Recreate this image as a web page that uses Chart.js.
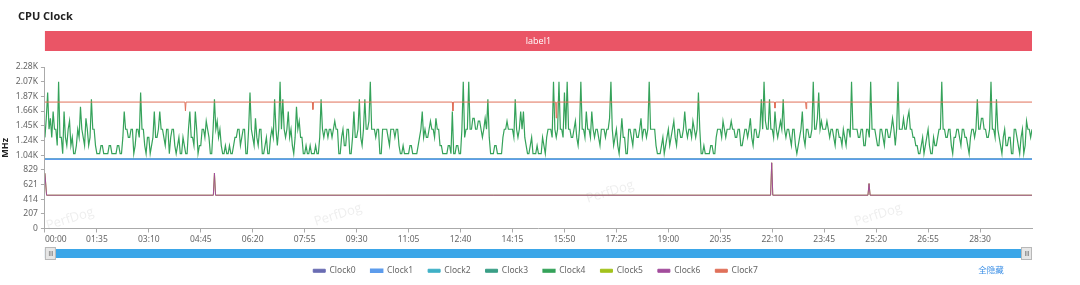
<!DOCTYPE html>
<html>
<head>
<meta charset="utf-8">
<script src="https://cdn.jsdelivr.net/npm/chart.js@4.4.1/dist/chart.umd.min.js"></script>
<style>
  html, body { margin: 0; padding: 0; background: #fff; }
  #wrap { position: relative; width: 1080px; height: 285px; }
</style>
</head>
<body>
<div id="wrap"><canvas id="cpuChart" width="1080" height="285"></canvas></div>
<script>
// big core sampled every 2.5 seconds
const sampleStep = 2.5;
const endTime = 1805;

const xTickLabels = ['00:00', '01:35', '03:10', '04:45', '06:20', '07:55', '09:30', '11:05', '12:40', '14:15',
    '15:50', '17:25', '19:00', '20:35', '22:10', '23:45', '25:20', '26:55', '28:30'];
const xTickStep = 95;
const yTickLabels = ['0', '207', '414', '621', '829', '1.04K', '1.24K', '1.45K', '1.66K', '1.87K', '2.07K', '2.28K'];
const yMax = 2280;

const seriesNames = ['Clock0', 'Clock1', 'Clock2', 'Clock3', 'Clock4', 'Clock5', 'Clock6', 'Clock7'];
const seriesColors = ['#6a6cb3', '#5d9cec', '#3fb0c6', '#3a9f86', '#35a25a', '#a3c21c', '#a24c9c', '#e0705a'];

// little cores (Clock0-3), flat
const littleTimes = [0, 1805];
const littleClock = [979, 979];

// big core (Clock4)
const clock4 = [
    1286, 1555, 1920, 1401, 1555, 1286, 1651, 1401, 1401, 1171, 2073, 1286, 1286, 1056, 1651, 1286, 1171, 1401, 1517, 1171,
    1286, 1056, 1056, 1171, 1401, 1286, 1720, 1401, 1286, 1171, 1555, 1401, 1171, 1286, 1824, 1401, 1401, 1171, 1056, 1056,
    1056, 1171, 1171, 1056, 1056, 1056, 1056, 1171, 1171, 1056, 1056, 1056, 1056, 1171, 1171, 1056, 1056, 1286, 1651, 1401,
    1401, 1286, 1286, 1401, 1401, 1056, 1171, 1401, 1401, 1286, 1920, 1401, 1401, 1171, 1056, 1286, 1286, 1056, 1171, 1286,
    1651, 1286, 1286, 1401, 1651, 1401, 1401, 1286, 1171, 1401, 1401, 1056, 1286, 1401, 1401, 1171, 1056, 1171, 1286, 1056,
    1056, 1286, 1171, 1056, 1056, 1401, 1651, 1286, 1286, 1171, 1651, 1401, 1056, 1171, 1171, 1401, 1401, 1286, 1517, 1401,
    1286, 1056, 1056, 1401, 1824, 1401, 1517, 1286, 1401, 1171, 1056, 1056, 1171, 1056, 1056, 1171, 1056, 1056, 1171, 1286,
    1286, 1401, 1401, 1171, 1286, 1401, 1401, 1056, 1056, 1401, 1920, 1401, 1286, 1171, 1555, 1286, 1171, 1401, 1401, 1056,
    1056, 1171, 1286, 1056, 1056, 1286, 1401, 1286, 1824, 1401, 1171, 1401, 2073, 1401, 1824, 1401, 1286, 1401, 1651, 1286,
    1401, 1171, 1056, 1286, 1720, 1401, 1517, 1286, 1286, 1056, 1056, 1171, 1056, 1056, 1171, 1056, 1056, 1056, 1171, 1056,
    1056, 1286, 1824, 1401, 1286, 1401, 1401, 1286, 1401, 1401, 1286, 1401, 1517, 1401, 1401, 1056, 1056, 1286, 1401, 1171,
    1171, 1401, 1401, 1056, 1056, 1286, 1651, 1286, 1286, 1401, 1824, 1286, 1171, 1401, 1824, 1401, 1401, 1517, 2073, 1401,
    1401, 1401, 1286, 1401, 1401, 1056, 1056, 1401, 1401, 1401, 1401, 1286, 1171, 1401, 1401, 1401, 1286, 1401, 1401, 1171,
    1056, 1056, 1171, 1056, 1056, 1056, 1056, 1171, 1171, 1056, 1056, 1056, 1056, 1171, 1286, 1401, 1651, 1286, 1401, 1286,
    1286, 1401, 1517, 1401, 1401, 1286, 1555, 1401, 1401, 1171, 1171, 1056, 1056, 1056, 1056, 1171, 1171, 1056, 1651, 1056,
    1056, 1171, 1171, 1056, 1056, 1401, 2073, 1286, 1401, 1401, 2073, 1401, 1401, 1555, 1555, 1401, 1401, 1517, 1517, 1401,
    1286, 1401, 1555, 1401, 1824, 1286, 1056, 1056, 1056, 1171, 1171, 1056, 1056, 1056, 1056, 1286, 1401, 1401, 1517, 1401,
    1401, 1401, 1401, 1286, 1824, 1401, 1286, 1401, 1651, 1401, 1651, 1286, 1171, 1056, 1056, 1171, 1286, 1056, 1056, 1056,
    1171, 1056, 1056, 1056, 1286, 1171, 1056, 1286, 1401, 1401, 1401, 1286, 2073, 1401, 1286, 1401, 2073, 1401, 1401, 1286,
    1920, 1401, 2073, 1401, 1401, 1286, 1286, 1401, 1517, 1286, 1171, 1401, 2073, 1401, 1401, 1286, 1651, 1401, 1401, 1286,
    1651, 1401, 1286, 1401, 1401, 1286, 1171, 1401, 1401, 1401, 1286, 1401, 1401, 1555, 2073, 1401, 1171, 1286, 1401, 1171,
    1056, 1286, 1555, 1286, 1286, 1056, 1056, 1401, 1401, 1286, 1171, 1401, 1401, 1286, 1286, 1401, 1555, 1286, 1401, 1401,
    1286, 1401, 2073, 1401, 1401, 1401, 1401, 1171, 1056, 1056, 1056, 1171, 1286, 1056, 1171, 1286, 1401, 1171, 1286, 1401,
    1517, 1286, 1171, 1401, 1401, 1286, 1286, 1401, 1651, 1401, 1286, 1401, 1401, 1286, 1517, 1401, 1286, 1401, 1920, 1401,
    1056, 1056, 1171, 1056, 1056, 1056, 1056, 1171, 1171, 1056, 1056, 1286, 1401, 1401, 1401, 1286, 1517, 1401, 1286, 1401,
    1401, 1401, 1517, 1401, 1401, 1286, 1286, 1401, 1401, 1171, 1171, 1286, 1401, 1401, 1286, 1401, 1555, 1286, 1171, 1401,
    1401, 1286, 1286, 1401, 1824, 1401, 2073, 1517, 1401, 1401, 1824, 1401, 1401, 1286, 1651, 1401, 1286, 1401, 1517, 1401,
    1824, 1401, 1286, 1401, 1401, 1286, 1171, 1401, 1401, 1171, 1056, 1171, 1286, 1401, 1651, 1286, 1171, 1401, 1401, 1286,
    1286, 1401, 2073, 1401, 1401, 1555, 1920, 1401, 1517, 1401, 1401, 1401, 1517, 1401, 1286, 1401, 1401, 1286, 1171, 1401,
    1401, 1286, 1286, 1171, 1401, 1286, 1171, 1401, 1401, 1286, 2073, 1401, 1401, 1401, 1401, 1286, 1286, 1401, 1401, 1171,
    1171, 1401, 1401, 1286, 2073, 1401, 1401, 1401, 1286, 1171, 1171, 1401, 1401, 1286, 1171, 1401, 1401, 1286, 1286, 1401,
    1555, 1401, 1171, 1401, 2073, 1401, 1401, 1401, 1555, 1401, 1401, 1555, 1651, 1401, 1401, 1286, 1286, 1171, 1171, 1056,
    1056, 1171, 1286, 1056, 1171, 1286, 1401, 1171, 1056, 1056, 1286, 1171, 1171, 1286, 1401, 1401, 2073, 1401, 1401, 1286,
    1286, 1401, 1401, 1171, 1056, 1286, 1286, 1401, 1401, 1286, 1171, 1401, 1401, 1286, 1286, 1171, 1056, 1286, 1401, 1401,
    1286, 1401, 1824, 1401, 1401, 1555, 1555, 1401, 1401, 1286, 1286, 1401, 2073, 1401, 1401, 1286, 1824, 1401, 1286, 1171,
    1056, 1286, 1401, 1171, 1171, 1286, 1286, 1056, 1056, 1401, 1401, 1286, 1171, 1056, 1286, 1401, 1056, 1171, 1517, 1401,
    1401, 1286, 1401, 1401
];

// middle cores (Clock5, Clock6)
const midTimes = [0, 3, 308, 310, 312, 1327, 1329, 1331, 1505, 1507, 1509, 1805];
const midClock = [780, 470, 470, 783, 470, 470, 928, 470, 470, 634, 470, 470];

// prime core (Clock7)
const primeTimes = [0, 256, 257, 258, 489, 490, 491, 745, 746, 747, 934, 935, 936, 1334, 1335, 1336, 1391, 1392, 1393, 1805];
const primeClock = [1785, 1785, 1660, 1785, 1785, 1680, 1785, 1785, 1660, 1785, 1785, 1560, 1785, 1785, 1700, 1785, 1785, 1690, 1785, 1785];

function pairs(times, values) {
    return values.map((v, i) => ({ x: times[i], y: v }));
}

const clock4Points = clock4.map((v, i) => ({ x: i * sampleStep, y: v }));

const seriesData = [
    pairs(littleTimes, littleClock),
    pairs(littleTimes, littleClock),
    pairs(littleTimes, littleClock),
    pairs(littleTimes, littleClock),
    clock4Points,
    pairs(midTimes, midClock),
    pairs(midTimes, midClock),
    pairs(primeTimes, primeClock)
];
// draw order like the original: later series on top, Clock1 above the other little cores
const drawOrder = [7, 4, 6, 5, 3, 2, 1, 0];

const decor = {
    id: 'decor',
    beforeDatasetsDraw(chart) {
        const ctx = chart.ctx;
        ctx.save();
        ctx.font = '13px "Open Sans"';
        ctx.fillStyle = 'rgba(170,170,170,0.2)';
        ctx.textAlign = 'center';
        ctx.textBaseline = 'middle';
        [[70, 219], [338, 215], [610, 192], [878, 215]].forEach(([x, y]) => {
            ctx.save();
            ctx.translate(x, y);
            ctx.rotate(-0.3);
            ctx.fillText('PerfDog', 0, 0);
            ctx.restore();
        });
        ctx.restore();
    },
    afterDraw(chart) {
        const ctx = chart.ctx;
        const a = chart.chartArea;
        ctx.save();
        // title
        ctx.font = 'bold 11px "Open Sans"';
        ctx.fillStyle = '#222';
        ctx.textBaseline = 'middle';
        ctx.textAlign = 'left';
        ctx.fillText('CPU Clock', 18, 17);
        // label bar
        ctx.fillStyle = '#ea5566';
        ctx.fillRect(a.left, 31, a.right - a.left, 20);
        ctx.fillStyle = '#fff';
        ctx.font = '9px "Open Sans"';
        ctx.textAlign = 'center';
        ctx.fillText('label1', (a.left + a.right) / 2, 41.5);
        // zoom slider
        ctx.fillStyle = '#3ba6e8';
        ctx.fillRect(a.left, 249, a.right - a.left, 9);
        [a.left, a.right - 11].forEach(hx => {
            ctx.fillStyle = '#e6e6e6';
            ctx.strokeStyle = '#b8b8b8';
            ctx.lineWidth = 1;
            ctx.fillRect(hx, 247, 11, 13);
            ctx.strokeRect(hx + 0.5, 247.5, 10, 12);
            ctx.strokeStyle = '#999';
            [4, 5.5, 7].forEach(dx => {
                ctx.beginPath();
                ctx.moveTo(hx + dx + 0.5, 251);
                ctx.lineTo(hx + dx + 0.5, 256);
                ctx.stroke();
            });
        });
        // hide-all link
        ctx.fillStyle = '#3b8fe6';
        ctx.font = '8.5px "Noto Sans CJK SC"';
        ctx.textAlign = 'center';
        ctx.fillText('全隐藏', 991, 270);
        ctx.restore();
    }
};

new Chart(document.getElementById('cpuChart'), {
    type: 'line',
    data: {
        datasets: seriesNames.map((name, i) => ({
            label: name,
            data: seriesData[i],
            borderColor: seriesColors[i],
            backgroundColor: seriesColors[i],
            borderWidth: i === 1 ? 1.5 : (i === 4 ? 1.2 : 1),
            pointRadius: 0,
            fill: false,
            order: drawOrder[i]
        }))
    },
    options: {
        responsive: false,
        animation: false,
        parsing: false,
        layout: { padding: { top: 67, left: 0, right: 9, bottom: 0 } },
        plugins: {
            tooltip: { enabled: false },
            legend: {
                position: 'bottom',
                labels: {
                    boxWidth: 12,
                    boxHeight: 3,
                    padding: 15,
                    color: '#666',
                    font: { family: 'Noto Sans', size: 8.5 },
                    sort: (a, b) => a.datasetIndex - b.datasetIndex
                }
            }
        },
        scales: {
            x: {
                type: 'linear',
                min: 0,
                max: endTime,
                afterBuildTicks: scale => {
                    scale.ticks = xTickLabels.map((l, i) => ({ value: i * xTickStep })).concat([{ value: endTime }]);
                },
                afterFit: scale => { scale.height = 23; },
                ticks: {
                    autoSkip: false,
                    maxRotation: 0,
                    align: 'inner',
                    padding: 2,
                    color: '#666',
                    font: { family: 'Noto Sans', size: 8.5 },
                    callback: (v, i) => xTickLabels[i] || ''
                },
                grid: {
                    drawOnChartArea: false,
                    tickLength: 4,
                    tickColor: ctx => ctx.index < xTickLabels.length ? '#aaa' : 'rgba(0,0,0,0)'
                },
                border: { color: '#aaa' }
            },
            y: {
                min: 0,
                max: yMax,
                afterBuildTicks: scale => {
                    scale.ticks = yTickLabels.map((l, i) => ({ value: i * yMax / (yTickLabels.length - 1) }));
                },
                ticks: {
                    padding: 3,
                    color: '#666',
                    font: { family: 'Noto Sans', size: 8.5 },
                    callback: (v, i) => yTickLabels[i]
                },
                title: {
                    display: true,
                    text: 'MHz',
                    color: '#222',
                    padding: { top: 0, bottom: 2 },
                    font: { family: 'Open Sans', size: 9, weight: 'bold' }
                },
                grid: { drawOnChartArea: false, tickLength: 4, tickColor: '#aaa' },
                border: { color: '#aaa' }
            },
            // empty right gutter so the legend stays centred on the page
            gutter: {
                type: 'linear',
                position: 'right',
                ticks: { display: false },
                grid: { display: false },
                border: { display: false },
                afterFit: scale => { scale.width = 39; }
            }
        }
    },
    plugins: [decor]
});
</script>
</body>
</html>
